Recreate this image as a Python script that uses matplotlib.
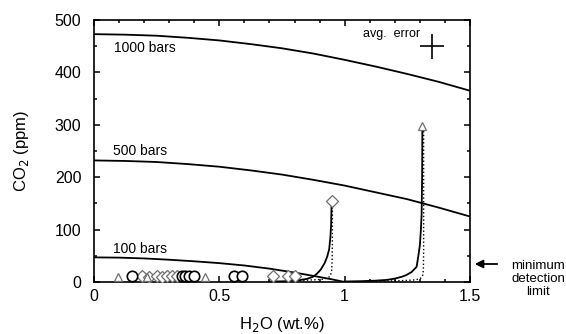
import matplotlib
matplotlib.use("Agg")
import matplotlib.pyplot as plt
from matplotlib.ticker import MultipleLocator

plt.rcParams['font.family'] = ['Liberation Sans', 'DejaVu Sans']

# Isobars (H2O wt.%, CO2 ppm)
iso_x = [0, 0.125, 0.25, 0.375, 0.5, 0.625, 0.75, 0.875, 1.0, 1.125, 1.25, 1.375, 1.5]
iso_1000 = [473, 472, 470, 466, 461, 454, 446, 436, 424, 411, 397, 382, 365]
iso_500 = [232, 231, 229, 225, 220, 213, 205, 195, 184, 171, 158, 142, 125]
iso100_x = [0, 0.1, 0.2, 0.3, 0.4, 0.5, 0.6, 0.7, 0.8, 0.9, 0.95, 1.0]
iso_100 = [47, 46.5, 45, 42.5, 39.5, 36, 31.5, 25.5, 18, 9.5, 5, 0]

# Degassing paths
pathA_solid_x = [0.948, 0.946, 0.943, 0.938, 0.93, 0.92, 0.905, 0.89, 0.874, 0.85, 0.81, 0.76, 0.70]
pathA_solid_y = [155, 110, 85, 62, 48, 36, 24, 16, 10, 6, 2.8, 1.4, 0.7]
pathA_dot_x = [0.951, 0.951, 0.950, 0.948, 0.944, 0.935, 0.915, 0.89, 0.87, 0.84, 0.80]
pathA_dot_y = [150, 80, 40, 22, 13, 8, 5.5, 4.5, 4, 3, 2]
pathB_solid_x = [1.31, 1.309, 1.307, 1.304, 1.30, 1.294, 1.287, 1.267, 1.245, 1.228, 1.20, 1.168, 1.12, 1.06, 1.0]
pathB_solid_y = [298, 200, 130, 99, 70, 50, 29, 19, 13, 10, 6.5, 4, 2.5, 1.5, 1]
pathB_dot_x = [1.315, 1.315, 1.315, 1.314, 1.312, 1.308, 1.30, 1.28, 1.24, 1.18, 1.10]
pathB_dot_y = [295, 150, 60, 25, 14, 9, 6, 4, 2.8, 2, 1.5]

# Samples
circ_x = [0.15, 0.35, 0.365, 0.38, 0.40, 0.56, 0.59]
circ_y = [11, 11, 11, 11, 11, 11, 11]
diam_x = [0.19, 0.22, 0.25, 0.27, 0.29, 0.31, 0.33, 0.714, 0.774, 0.80, 0.948]
diam_y = [11, 10, 11, 10, 11, 11, 11, 11, 11, 11, 155]
tri_x = [0.097, 0.21, 0.443, 1.31]
tri_y = [9, 10, 9, 298]

fig = plt.figure(figsize=(5.66, 3.34), dpi=100)
ax = fig.add_axes([94/566, 52/334, 376/566, 262/334])

lw = 1.3
ax.plot(iso_x, iso_1000, color='black', lw=lw)
ax.plot(iso_x, iso_500, color='black', lw=lw)
ax.plot(iso100_x, iso_100, color='black', lw=lw)

ax.plot(pathA_solid_x, pathA_solid_y, color='black', lw=1.3)
ax.plot(pathA_dot_x, pathA_dot_y, color='black', lw=1.0, ls=':')
ax.plot(pathB_solid_x, pathB_solid_y, color='black', lw=1.3)
ax.plot(pathB_dot_x, pathB_dot_y, color='black', lw=1.0, ls=':')

ax.plot(diam_x, diam_y, ls='none', marker='D', ms=5.8, mfc='white', mec='#6f6f6f', mew=0.9, zorder=3)
ax.plot(tri_x, tri_y, ls='none', marker='^', ms=6.3, mfc='white', mec='#6f6f6f', mew=0.9, zorder=3)
ax.plot(circ_x, circ_y, ls='none', marker='o', ms=7.5, mfc='white', mec='black', mew=1.2, zorder=4)

ax.text(0.08, 447, '1000 bars', fontsize=10, va='center')
ax.text(0.075, 250, '500 bars', fontsize=10, va='center')
ax.text(0.075, 63, '100 bars', fontsize=10, va='center')
ax.text(1.073, 473, 'avg.  error', fontsize=9, va='center')
ax.errorbar([1.347], [450], xerr=[0.048], yerr=[24], color='black', lw=1.2, capsize=0)

ax.set_xlim(0, 1.5)
ax.set_ylim(0, 500)
ax.xaxis.set_major_locator(MultipleLocator(0.5))
ax.xaxis.set_minor_locator(MultipleLocator(0.1))
ax.yaxis.set_major_locator(MultipleLocator(100))
ax.yaxis.set_minor_locator(MultipleLocator(50))
ax.set_xticks([0, 0.5, 1, 1.5])
ax.set_xticklabels(['0', '0.5', '1', '1.5'])
ax.tick_params(which='both', direction='in', top=True, right=True, labelsize=11.5, width=1.1)
ax.tick_params(which='major', length=4.5)
ax.tick_params(axis='y', which='major', pad=9)
ax.tick_params(axis='x', which='major', pad=5)
ax.tick_params(which='minor', length=2.5)
for s in ax.spines.values():
    s.set_linewidth(1.2)

ax.set_xlabel('H$_2$O (wt.%)', fontsize=12, labelpad=8)
ax.set_ylabel('CO$_2$ (ppm)', fontsize=12, labelpad=17)

ax.annotate('', xy=(472/566, (334-264)/334), xycoords='figure fraction',
            xytext=(500/566, (334-264)/334), textcoords='figure fraction',
            arrowprops=dict(arrowstyle='-|>', color='black', lw=1.3, mutation_scale=12))
fig.text(538/566, (334-279)/334, 'minimum\ndetection\nlimit', fontsize=9.5, ha='center', va='center',
         linespacing=1.1)

fig.savefig('out.png', dpi=100)
